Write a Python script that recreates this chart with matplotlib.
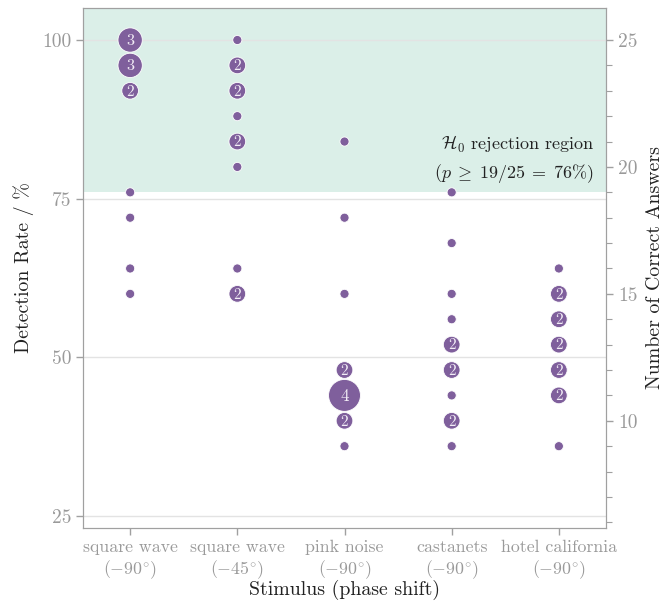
import matplotlib
matplotlib.use("Agg")
import matplotlib.pyplot as plt
import numpy as np

plt.rcParams['font.family'] = ['cmr10', 'DejaVu Serif']
plt.rcParams['mathtext.fontset'] = 'cm'
plt.rcParams['axes.formatter.use_mathtext'] = True

categories = ["square wave\n$(-90^{\\circ})$", "square wave\n$(-45^{\\circ})$",
              "pink noise\n$(-90^{\\circ})$", "castanets\n$(-90^{\\circ})$",
              "hotel california\n$(-90^{\\circ})$"]

sq90_rate = [100, 96, 92, 76, 72, 64, 60]
sq90_n = [3, 3, 2, 1, 1, 1, 1]
sq45_rate = [100, 96, 92, 88, 84, 80, 64, 60]
sq45_n = [1, 2, 2, 1, 2, 1, 1, 2]
pink_rate = [84, 72, 60, 48, 44, 40, 36]
pink_n = [1, 1, 1, 2, 4, 2, 1]
cast_rate = [76, 68, 60, 56, 52, 48, 44, 40, 36]
cast_n = [1, 1, 1, 1, 2, 2, 1, 2, 1]
hotel_rate = [64, 60, 56, 52, 48, 44, 36]
hotel_n = [1, 2, 2, 2, 2, 2, 1]

rates = [sq90_rate, sq45_rate, pink_rate, cast_rate, hotel_rate]
counts = [sq90_n, sq45_n, pink_n, cast_n, hotel_n]

n_trials = 25
threshold = 76
left_ticks = [25, 50, 75, 100]
right_ticks = [10, 15, 20, 25]

purple = '#7f5f9c'
gray = '#9a9a9a'
spine_gray = '#a0a0a0'

fig = plt.figure(figsize=(6.72, 6.03), dpi=100)
ax = fig.add_axes([0.1235, 0.1244, 0.9018 - 0.1235, 0.9867 - 0.1244])
ax.set_xlim(-0.44, 4.44)
ax.set_ylim(23.11, 105.04)

ax.axhspan(threshold, 105.04, color='#dbefe8', zorder=0, lw=0)
ax.set_axisbelow(True)
ax.yaxis.grid(True, color='#e3e3e3', lw=1.0, zorder=0.5)

for i, (r, c) in enumerate(zip(rates, counts)):
    c = np.array(c)
    diam_px = 1.5 + 7.6 * c
    s = (diam_px * 72 / 100) ** 2
    ax.scatter(np.full(len(r), i), r, s=s, color=purple, edgecolor='white',
               linewidth=0.6, zorder=3)
    for yy, cc in zip(r, c):
        if cc > 1:
            ax.text(i, yy - 0.15, str(cc), ha='center', va='center', color='#f2edf6',
                    fontsize=11 + 0.6 * (cc - 2), zorder=4)

ax.set_xticks(range(len(categories)))
ax.set_xticklabels(categories, color=gray, fontsize=12.8)
ax.set_yticks(left_ticks)
ax.set_yticklabels([str(t) for t in left_ticks], color=gray, fontsize=14)
ax.tick_params(axis='both', color=spine_gray, length=5, width=1)
for sp in ax.spines.values():
    sp.set_color(spine_gray)

ax.set_ylabel("Detection Rate / %", fontsize=14.3, color='#222222', labelpad=6)
ax.set_xlabel("Stimulus (phase shift)", fontsize=14.3, color='#222222', labelpad=-1)

ax2 = ax.twinx()
ax2.set_ylim(23.11 * n_trials / 100, 105.04 * n_trials / 100)
ax2.set_yticks(right_ticks)
ax2.set_yticklabels([str(t) for t in right_ticks], color=gray, fontsize=14)
ax2.set_yticks(np.arange(6, 26), minor=True)
ax2.tick_params(axis='y', which='major', color=spine_gray, length=5, width=1)
ax2.tick_params(axis='y', which='minor', color=spine_gray, length=4, width=0.8)
for sp in ax2.spines.values():
    sp.set_color(spine_gray)
ax2.set_ylabel("Number of Correct Answers", fontsize=14.3, color='#222222', labelpad=6)

ax.text(4.33, 77.1, "$\\mathcal{H}_0$ rejection region\n$(p \\;\\geq\\; 19/25 \\;=\\; 76\\%)$",
        ha='right', va='bottom', fontsize=13, color='#222222', linespacing=1.45, zorder=5)

fig.savefig("out.png", dpi=100)
